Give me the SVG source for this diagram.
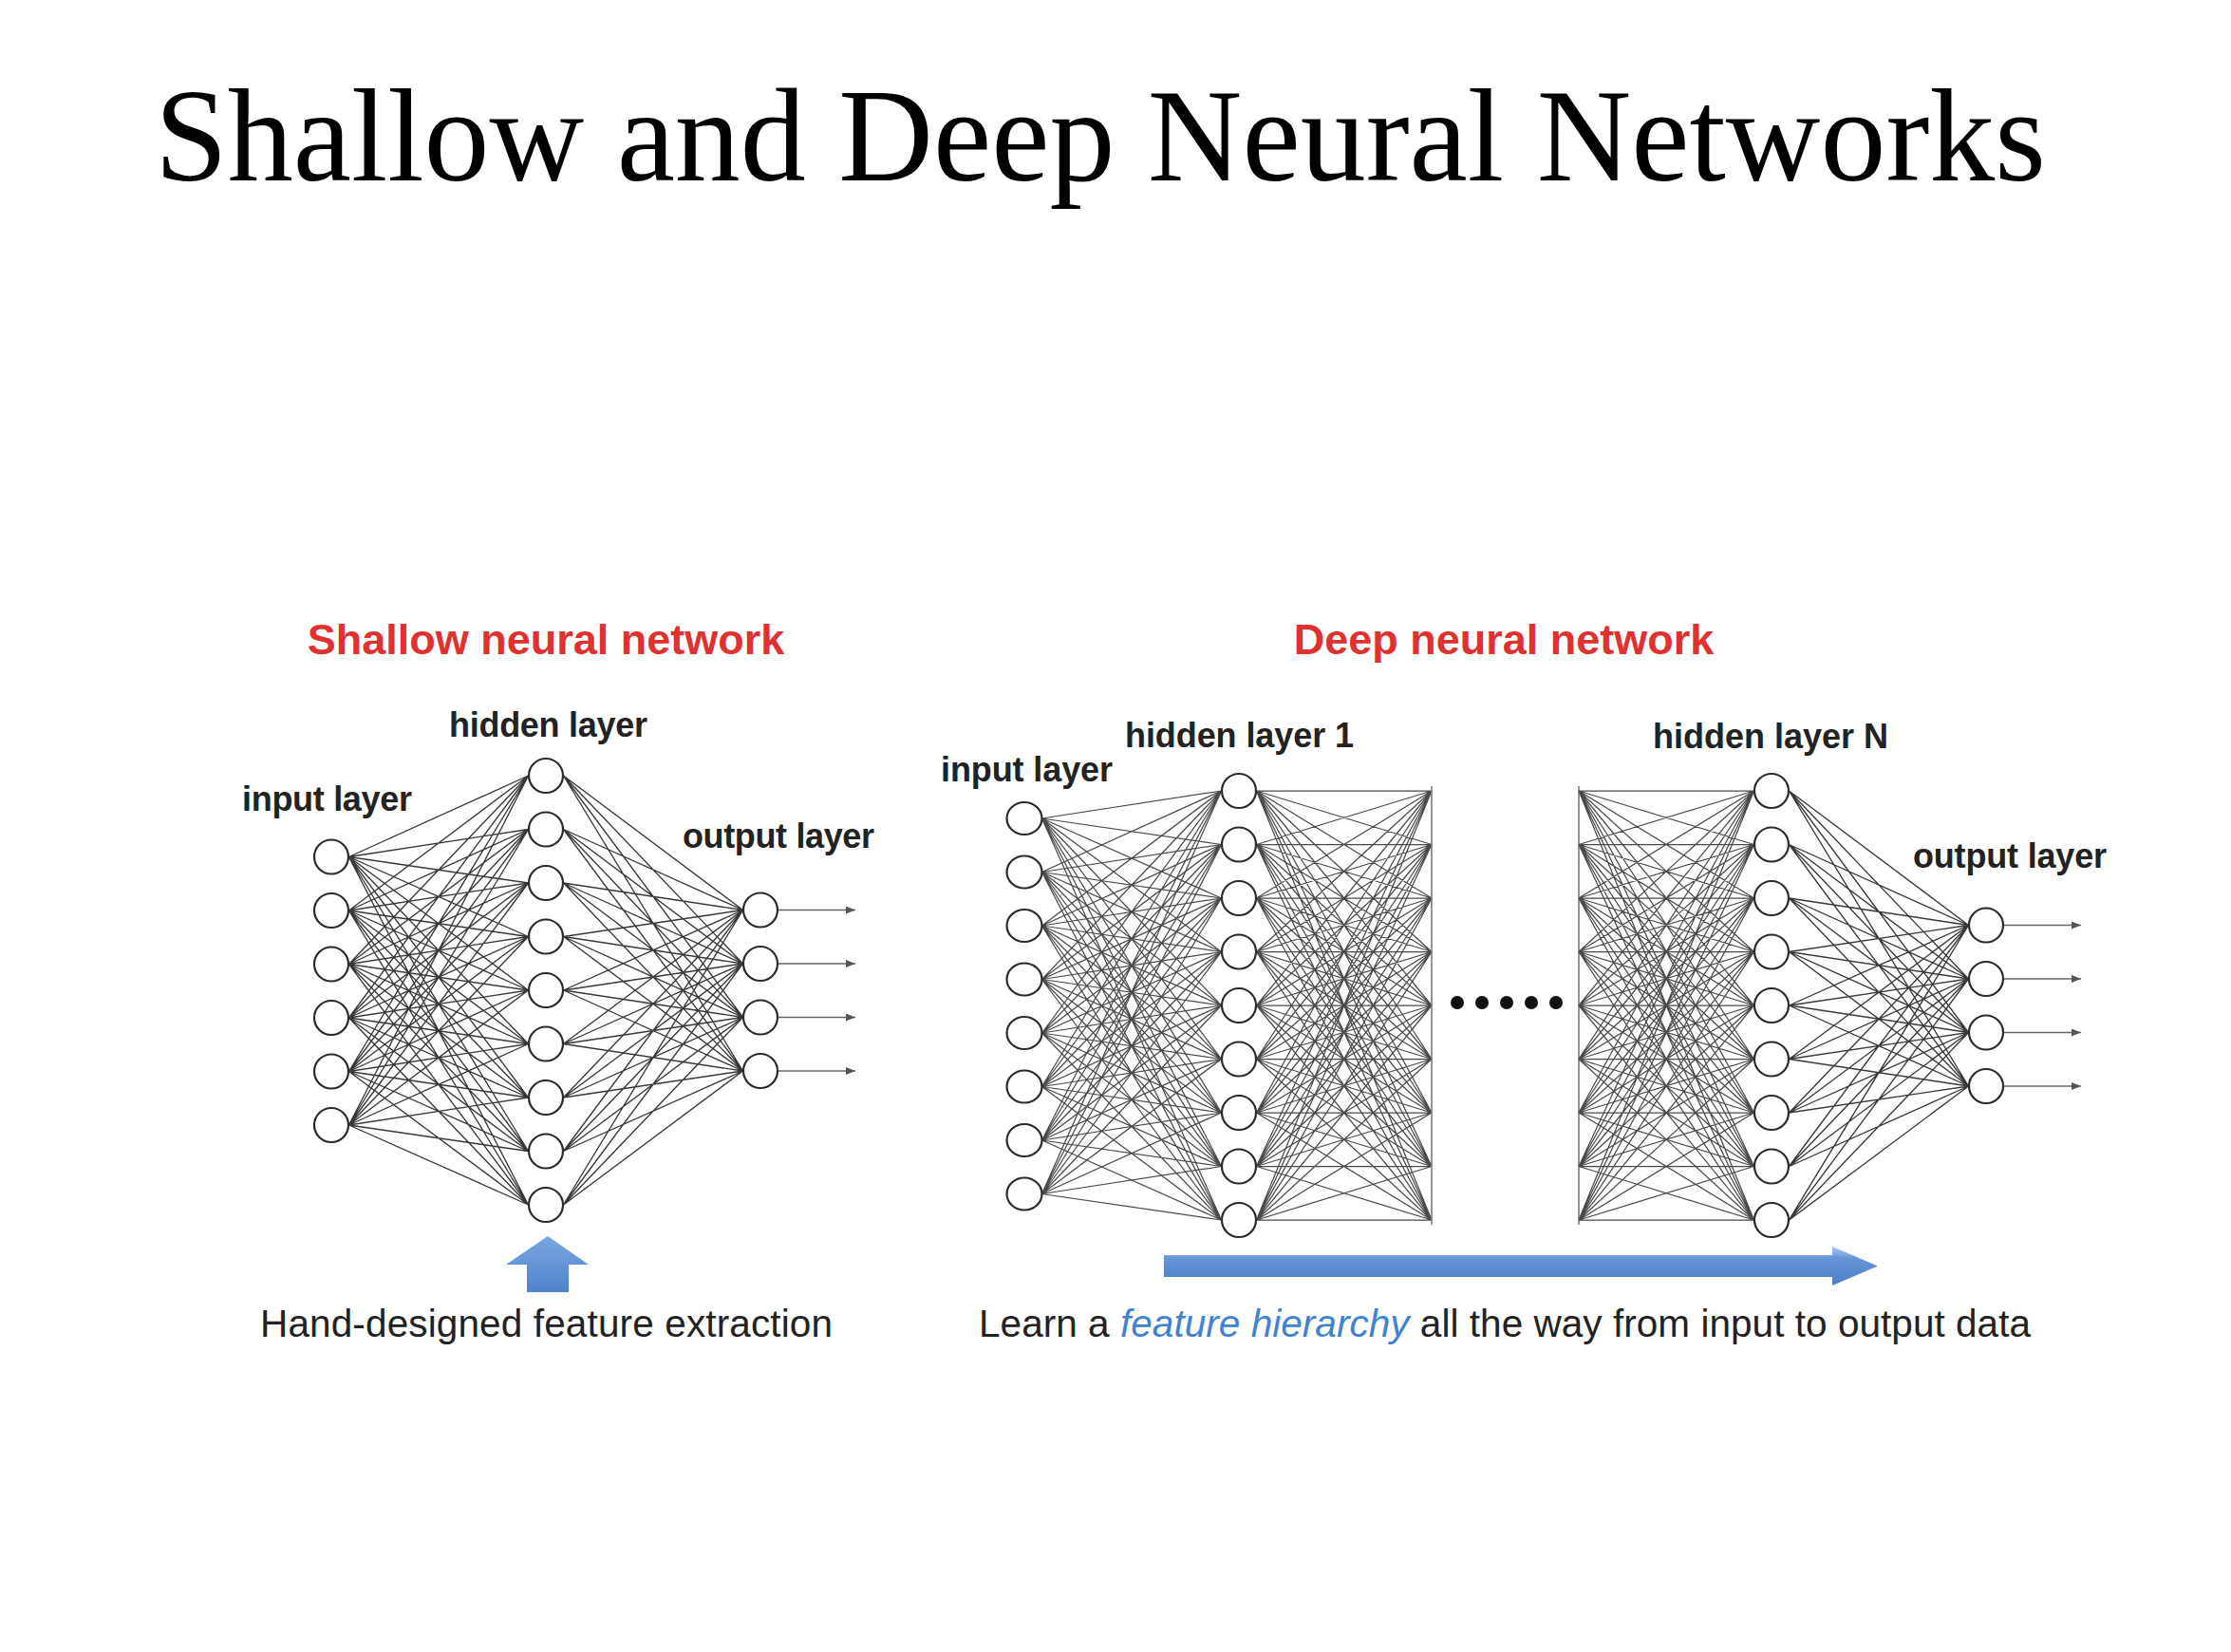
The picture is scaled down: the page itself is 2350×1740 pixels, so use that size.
<svg xmlns="http://www.w3.org/2000/svg" xmlns:xlink="http://www.w3.org/1999/xlink" width="2350" height="1740" viewBox="0 0 2350 1740">
  <style>
    .title { font-family: "Liberation Serif", "Times New Roman", serif; font-size: 140px; fill: #000; }
    .heading { font-family: "Liberation Sans", Arial, sans-serif; font-weight: bold; font-size: 45px; fill: #e03131; text-anchor: middle; }
    .label { font-family: "Liberation Sans", Arial, sans-serif; font-weight: bold; font-size: 36px; fill: #222; }
    .caption { font-family: "Liberation Sans", Arial, sans-serif; font-size: 40.5px; fill: #222; }
    .caption .em { font-style: italic; fill: #3f82d2; }
    .mesh { fill: none; stroke: #383838; stroke-width: 1.35; }
    .mesh.deep { stroke: #4a4a4a; stroke-width: 1.25; }
    .cut { stroke: #7a7a7a; stroke-width: 1.6; }
    .out { stroke: #666; stroke-width: 1.6; fill: none; marker-end: url(#tip); }
    .node circle, .node ellipse { fill: #fff; stroke: #2b2b2b; stroke-width: 2.2; }
    .dot { fill: #111; }
  </style>
  <defs>
    <marker id="tip" viewBox="0 0 10 8" markerUnits="userSpaceOnUse" markerWidth="10" markerHeight="8" refX="10" refY="4" orient="auto">
      <path d="M0 0L10 4L0 8z" fill="#555"/>
    </marker>
    <linearGradient id="blue-h" x1="0" y1="0" x2="0" y2="1">
      <stop offset="0" stop-color="#a9c7ec"/>
      <stop offset="0.3" stop-color="#6595d6"/>
      <stop offset="1" stop-color="#4b7fc6"/>
    </linearGradient>
    <linearGradient id="blue-v" x1="0" y1="0" x2="0" y2="1">
      <stop offset="0" stop-color="#7aa6e0"/>
      <stop offset="1" stop-color="#4e84cb"/>
    </linearGradient>
    <!-- full meshes between node columns, in local coordinates (column pitch 56.5) -->
    <path id="mesh-9-9" d="M0 0L184.5 0M0 0L184.5 56.5M0 0L184.5 113M0 0L184.5 169.5M0 0L184.5 226M0 0L184.5 282.5M0 0L184.5 339M0 0L184.5 395.5M0 0L184.5 452M0 56.5L184.5 0M0 56.5L184.5 56.5M0 56.5L184.5 113M0 56.5L184.5 169.5M0 56.5L184.5 226M0 56.5L184.5 282.5M0 56.5L184.5 339M0 56.5L184.5 395.5M0 56.5L184.5 452M0 113L184.5 0M0 113L184.5 56.5M0 113L184.5 113M0 113L184.5 169.5M0 113L184.5 226M0 113L184.5 282.5M0 113L184.5 339M0 113L184.5 395.5M0 113L184.5 452M0 169.5L184.5 0M0 169.5L184.5 56.5M0 169.5L184.5 113M0 169.5L184.5 169.5M0 169.5L184.5 226M0 169.5L184.5 282.5M0 169.5L184.5 339M0 169.5L184.5 395.5M0 169.5L184.5 452M0 226L184.5 0M0 226L184.5 56.5M0 226L184.5 113M0 226L184.5 169.5M0 226L184.5 226M0 226L184.5 282.5M0 226L184.5 339M0 226L184.5 395.5M0 226L184.5 452M0 282.5L184.5 0M0 282.5L184.5 56.5M0 282.5L184.5 113M0 282.5L184.5 169.5M0 282.5L184.5 226M0 282.5L184.5 282.5M0 282.5L184.5 339M0 282.5L184.5 395.5M0 282.5L184.5 452M0 339L184.5 0M0 339L184.5 56.5M0 339L184.5 113M0 339L184.5 169.5M0 339L184.5 226M0 339L184.5 282.5M0 339L184.5 339M0 339L184.5 395.5M0 339L184.5 452M0 395.5L184.5 0M0 395.5L184.5 56.5M0 395.5L184.5 113M0 395.5L184.5 169.5M0 395.5L184.5 226M0 395.5L184.5 282.5M0 395.5L184.5 339M0 395.5L184.5 395.5M0 395.5L184.5 452M0 452L184.5 0M0 452L184.5 56.5M0 452L184.5 113M0 452L184.5 169.5M0 452L184.5 226M0 452L184.5 282.5M0 452L184.5 339M0 452L184.5 395.5M0 452L184.5 452"/>
    <path id="mesh-6-9" d="M0 85.5L189 0M0 85.5L189 56.5M0 85.5L189 113M0 85.5L189 169.5M0 85.5L189 226M0 85.5L189 282.5M0 85.5L189 339M0 85.5L189 395.5M0 85.5L189 452M0 142L189 0M0 142L189 56.5M0 142L189 113M0 142L189 169.5M0 142L189 226M0 142L189 282.5M0 142L189 339M0 142L189 395.5M0 142L189 452M0 198.5L189 0M0 198.5L189 56.5M0 198.5L189 113M0 198.5L189 169.5M0 198.5L189 226M0 198.5L189 282.5M0 198.5L189 339M0 198.5L189 395.5M0 198.5L189 452M0 255L189 0M0 255L189 56.5M0 255L189 113M0 255L189 169.5M0 255L189 226M0 255L189 282.5M0 255L189 339M0 255L189 395.5M0 255L189 452M0 311.5L189 0M0 311.5L189 56.5M0 311.5L189 113M0 311.5L189 169.5M0 311.5L189 226M0 311.5L189 282.5M0 311.5L189 339M0 311.5L189 395.5M0 311.5L189 452M0 368L189 0M0 368L189 56.5M0 368L189 113M0 368L189 169.5M0 368L189 226M0 368L189 282.5M0 368L189 339M0 368L189 395.5M0 368L189 452"/>
    <path id="mesh-2-9" d="M0 29L189 0M0 29L189 56.5M0 29L189 113M0 29L189 169.5M0 29L189 226M0 29L189 282.5M0 29L189 339M0 29L189 395.5M0 29L189 452M0 424.5L189 0M0 424.5L189 56.5M0 424.5L189 113M0 424.5L189 169.5M0 424.5L189 226M0 424.5L189 282.5M0 424.5L189 339M0 424.5L189 395.5M0 424.5L189 452"/>
    <path id="mesh-9-4" d="M0 0L189 141.5M0 0L189 198M0 0L189 254.5M0 0L189 311M0 56.5L189 141.5M0 56.5L189 198M0 56.5L189 254.5M0 56.5L189 311M0 113L189 141.5M0 113L189 198M0 113L189 254.5M0 113L189 311M0 169.5L189 141.5M0 169.5L189 198M0 169.5L189 254.5M0 169.5L189 311M0 226L189 141.5M0 226L189 198M0 226L189 254.5M0 226L189 311M0 282.5L189 141.5M0 282.5L189 198M0 282.5L189 254.5M0 282.5L189 311M0 339L189 141.5M0 339L189 198M0 339L189 254.5M0 339L189 311M0 395.5L189 141.5M0 395.5L189 198M0 395.5L189 254.5M0 395.5L189 311M0 452L189 141.5M0 452L189 198M0 452L189 254.5M0 452L189 311"/>
  </defs>

  <rect width="2350" height="1740" fill="#fff"/>

  <text class="title" x="163" y="190" textLength="1992" lengthAdjust="spacingAndGlyphs">Shallow and Deep Neural Networks</text>

  <g id="headings">
    <text class="heading" x="575" y="689">Shallow neural network</text>
    <text class="heading" x="1584" y="689">Deep neural network</text>
  </g>

  <g id="layer-labels">
    <text class="label" x="255" y="854" textLength="179">input layer</text>
    <text class="label" x="473" y="776" textLength="209">hidden layer</text>
    <text class="label" x="719" y="893" textLength="202">output layer</text>
    <text class="label" x="991" y="823" textLength="181">input layer</text>
    <text class="label" x="1185" y="787" textLength="241">hidden layer 1</text>
    <text class="label" x="1741" y="788" textLength="248">hidden layer N</text>
    <text class="label" x="2015" y="914" textLength="204">output layer</text>
  </g>

  <g id="connectors">
    <!-- shallow network -->
    <use class="mesh" xlink:href="#mesh-6-9" href="#mesh-6-9" transform="translate(367.5 817)"/>
    <use class="mesh" xlink:href="#mesh-9-4" href="#mesh-9-4" transform="translate(593.5 817)"/>
    <line class="out" x1="820" y1="958.5" x2="901" y2="958.5"/>
    <line class="out" x1="820" y1="1015" x2="901" y2="1015"/>
    <line class="out" x1="820" y1="1071.5" x2="901" y2="1071.5"/>
    <line class="out" x1="820" y1="1128" x2="901" y2="1128"/>
    <!-- deep network -->
    <use class="mesh deep" xlink:href="#mesh-6-9" href="#mesh-6-9" transform="translate(1097.5 833)"/>
    <use class="mesh deep" xlink:href="#mesh-2-9" href="#mesh-2-9" transform="translate(1097.5 833)"/>
    <use class="mesh deep" xlink:href="#mesh-9-9" href="#mesh-9-9" transform="translate(1323.5 833)"/>
    <line class="cut" x1="1508" y1="828" x2="1508" y2="1290"/>
    <line class="cut" x1="1663" y1="828" x2="1663" y2="1290"/>
    <use class="mesh deep" xlink:href="#mesh-9-9" href="#mesh-9-9" transform="translate(1663 833)"/>
    <use class="mesh" xlink:href="#mesh-9-4" href="#mesh-9-4" transform="translate(1884.5 833)"/>
    <line class="out" x1="2111" y1="974.5" x2="2192" y2="974.5"/>
    <line class="out" x1="2111" y1="1031" x2="2192" y2="1031"/>
    <line class="out" x1="2111" y1="1087.5" x2="2192" y2="1087.5"/>
    <line class="out" x1="2111" y1="1144" x2="2192" y2="1144"/>
  </g>

  <!-- shallow network nodes -->
  <g id="shallow-input-1" class="node"><circle cx="349" cy="902.5" r="18"/></g>
  <g id="shallow-input-2" class="node"><circle cx="349" cy="959" r="18"/></g>
  <g id="shallow-input-3" class="node"><circle cx="349" cy="1015.5" r="18"/></g>
  <g id="shallow-input-4" class="node"><circle cx="349" cy="1072" r="18"/></g>
  <g id="shallow-input-5" class="node"><circle cx="349" cy="1128.5" r="18"/></g>
  <g id="shallow-input-6" class="node"><circle cx="349" cy="1185" r="18"/></g>

  <g id="shallow-hidden-1" class="node"><circle cx="575" cy="817" r="18"/></g>
  <g id="shallow-hidden-2" class="node"><circle cx="575" cy="873.5" r="18"/></g>
  <g id="shallow-hidden-3" class="node"><circle cx="575" cy="930" r="18"/></g>
  <g id="shallow-hidden-4" class="node"><circle cx="575" cy="986.5" r="18"/></g>
  <g id="shallow-hidden-5" class="node"><circle cx="575" cy="1043" r="18"/></g>
  <g id="shallow-hidden-6" class="node"><circle cx="575" cy="1099.5" r="18"/></g>
  <g id="shallow-hidden-7" class="node"><circle cx="575" cy="1156" r="18"/></g>
  <g id="shallow-hidden-8" class="node"><circle cx="575" cy="1212.5" r="18"/></g>
  <g id="shallow-hidden-9" class="node"><circle cx="575" cy="1269" r="18"/></g>

  <g id="shallow-output-1" class="node"><circle cx="801" cy="958.5" r="18"/></g>
  <g id="shallow-output-2" class="node"><circle cx="801" cy="1015" r="18"/></g>
  <g id="shallow-output-3" class="node"><circle cx="801" cy="1071.5" r="18"/></g>
  <g id="shallow-output-4" class="node"><circle cx="801" cy="1128" r="18"/></g>

  <!-- deep network nodes -->
  <g id="deep-input-1" class="node"><ellipse cx="1079" cy="862" rx="18.5" ry="17"/></g>
  <g id="deep-input-2" class="node"><ellipse cx="1079" cy="918.5" rx="18.5" ry="17"/></g>
  <g id="deep-input-3" class="node"><ellipse cx="1079" cy="975" rx="18.5" ry="17"/></g>
  <g id="deep-input-4" class="node"><ellipse cx="1079" cy="1031.5" rx="18.5" ry="17"/></g>
  <g id="deep-input-5" class="node"><ellipse cx="1079" cy="1088" rx="18.5" ry="17"/></g>
  <g id="deep-input-6" class="node"><ellipse cx="1079" cy="1144.5" rx="18.5" ry="17"/></g>
  <g id="deep-input-7" class="node"><ellipse cx="1079" cy="1201" rx="18.5" ry="17"/></g>
  <g id="deep-input-8" class="node"><ellipse cx="1079" cy="1257.5" rx="18.5" ry="17"/></g>

  <g id="deep-hidden1-1" class="node"><circle cx="1305" cy="833" r="18"/></g>
  <g id="deep-hidden1-2" class="node"><circle cx="1305" cy="889.5" r="18"/></g>
  <g id="deep-hidden1-3" class="node"><circle cx="1305" cy="946" r="18"/></g>
  <g id="deep-hidden1-4" class="node"><circle cx="1305" cy="1002.5" r="18"/></g>
  <g id="deep-hidden1-5" class="node"><circle cx="1305" cy="1059" r="18"/></g>
  <g id="deep-hidden1-6" class="node"><circle cx="1305" cy="1115.5" r="18"/></g>
  <g id="deep-hidden1-7" class="node"><circle cx="1305" cy="1172" r="18"/></g>
  <g id="deep-hidden1-8" class="node"><circle cx="1305" cy="1228.5" r="18"/></g>
  <g id="deep-hidden1-9" class="node"><circle cx="1305" cy="1285" r="18"/></g>

  <g id="deep-hiddenN-1" class="node"><circle cx="1866" cy="833" r="18"/></g>
  <g id="deep-hiddenN-2" class="node"><circle cx="1866" cy="889.5" r="18"/></g>
  <g id="deep-hiddenN-3" class="node"><circle cx="1866" cy="946" r="18"/></g>
  <g id="deep-hiddenN-4" class="node"><circle cx="1866" cy="1002.5" r="18"/></g>
  <g id="deep-hiddenN-5" class="node"><circle cx="1866" cy="1059" r="18"/></g>
  <g id="deep-hiddenN-6" class="node"><circle cx="1866" cy="1115.5" r="18"/></g>
  <g id="deep-hiddenN-7" class="node"><circle cx="1866" cy="1172" r="18"/></g>
  <g id="deep-hiddenN-8" class="node"><circle cx="1866" cy="1228.5" r="18"/></g>
  <g id="deep-hiddenN-9" class="node"><circle cx="1866" cy="1285" r="18"/></g>

  <g id="deep-output-1" class="node"><circle cx="2092" cy="974.5" r="18"/></g>
  <g id="deep-output-2" class="node"><circle cx="2092" cy="1031" r="18"/></g>
  <g id="deep-output-3" class="node"><circle cx="2092" cy="1087.5" r="18"/></g>
  <g id="deep-output-4" class="node"><circle cx="2092" cy="1144" r="18"/></g>

  <!-- elided layers -->
  <g id="ellipsis">
    <circle class="dot" cx="1535" cy="1056" r="7"/>
    <circle class="dot" cx="1561" cy="1056" r="7"/>
    <circle class="dot" cx="1587" cy="1056" r="7"/>
    <circle class="dot" cx="1613" cy="1056" r="7"/>
    <circle class="dot" cx="1639" cy="1056" r="7"/>
  </g>

  <!-- blue arrows -->
  <polygon id="arrow-up" points="577,1302 620,1332 599,1332 599,1361 555,1361 555,1332 533,1332" fill="url(#blue-v)"/>
  <polygon id="arrow-right" points="1226,1322 1930,1322 1930,1313 1978,1333.5 1930,1354 1930,1345 1226,1345" fill="url(#blue-h)"/>

  <g id="captions">
    <text class="caption" x="274" y="1408" textLength="603">Hand-designed feature extraction</text>
    <text class="caption" x="1031" y="1408" textLength="1108">Learn a <tspan class="em">feature hierarchy</tspan> all the way from input to output data</text>
  </g>
</svg>
